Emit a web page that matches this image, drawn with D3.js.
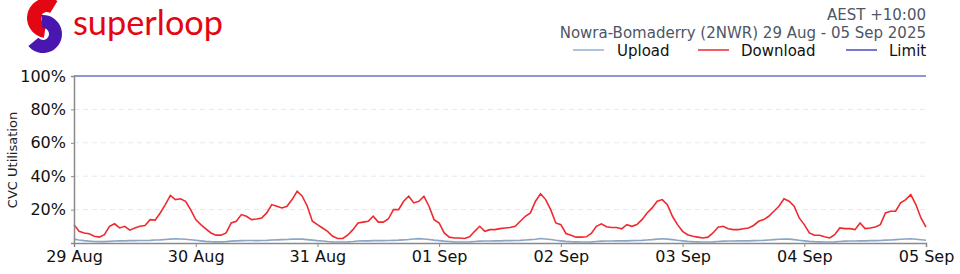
<!DOCTYPE html>
<html><head><meta charset="utf-8">
<script src="https://cdn.jsdelivr.net/npm/d3@7"></script>
<style>
html,body{margin:0;padding:0;background:#fff;}
svg{display:block;font-family:"DejaVu Sans",sans-serif;}
</style></head>
<body>
<svg id="chart" width="960" height="274"></svg>
<script>
// ---- data ----
const startTime = "2025-08-29T00:00:00";
const tickLabels = ["29 Aug","30 Aug","31 Aug","01 Sep","02 Sep","03 Sep","04 Sep","05 Sep"];
const yTicks = [20,40,60,80,100];
// hourly download utilisation (%)
const download = [
 11,7,6,5.5,4,3.5,5,10,11.5,9,10,7.7,9,10,10.5,14,13.7,18,23,28.5,26,26.5,25,20,
 14,11,8.5,6,4.7,4.7,6,12,13,17,16,14,14.4,15,18,23,22,21,22,26,31,28,22,13,
 11,9,7,4,2.7,2.7,4.8,8,12,12.5,13,16,12.5,12.5,14.5,20,20,25,28,24,25,28,22,14,
 12,6,3.5,3,3,2.7,3.7,7,10,7,8,8,8.6,9,9.3,10,13,16,18,25,29.5,26,20,12,
 11,5.7,4.6,3.5,3.5,3.7,5.7,10,11.5,9.7,9.3,9.3,8.5,11,10,11,14,18,21,25,26,23,16,11,
 7,5,4,3.5,3,3.5,6,9.5,10,8.5,8,8,8.5,9,10.5,13,14,16,19,22,26.5,25,22,15,
 11,6,4.6,4.6,3.7,3,5,9,8.6,8.6,8,12,8.6,9,9.6,11,18,19,19,24,26,29,23,15,
 9.5
];
// hourly upload utilisation (%)
const upload = [
 2.3,1.8,1.4,1.1,0.9,0.8,0.8,1,1.2,1.3,1.3,1.4,1.4,1.5,1.5,1.6,1.8,1.9,2.1,2.3,2.5,2.4,2.2,1.9,
 1.6,1.3,1,0.8,0.7,0.7,0.8,1.1,1.3,1.4,1.5,1.5,1.4,1.5,1.6,1.8,1.9,2,2.1,2.3,2.4,2.3,2,1.7,
 1.4,1.2,0.9,0.7,0.6,0.6,0.7,0.9,1.2,1.3,1.3,1.4,1.4,1.4,1.5,1.6,1.7,1.9,2.1,2.4,2.6,2.4,2.1,1.7,
 1.4,1.1,0.9,0.7,0.6,0.6,0.7,0.9,1.1,1.2,1.2,1.3,1.3,1.4,1.4,1.5,1.6,1.8,2,2.2,2.7,2.4,2.1,1.6,
 1.3,1,0.8,0.7,0.6,0.6,0.7,0.9,1.1,1.2,1.2,1.3,1.3,1.3,1.4,1.5,1.6,1.8,2,2.3,2.5,2.3,2,1.6,
 1.3,1,0.8,0.7,0.6,0.6,0.7,0.9,1.1,1.2,1.2,1.3,1.3,1.3,1.4,1.5,1.6,1.8,2,2.2,2.4,2.3,2,1.6,
 1.3,1,0.8,0.7,0.6,0.6,0.7,0.9,1.1,1.2,1.2,1.3,1.3,1.4,1.4,1.5,1.7,1.8,2,2.2,2.4,2.5,2.2,1.9,
 1.6
];
const limitValue = 100;

// ---- layout ----
const svg = d3.select("#chart");
const M = {left:74, right:926, top:76, bottom:243};
const t0 = new Date(startTime);
const x = d3.scaleTime()
  .domain([t0, d3.timeDay.offset(t0, 7)])
  .range([M.left, M.right]);
const y = d3.scaleLinear().domain([0,100]).range([M.bottom, M.top]);
const timeAt = i => d3.timeHour.offset(t0, i);

// grid
svg.append("g").selectAll("line").data(yTicks.filter(d=>d<100)).join("line")
  .attr("x1",M.left).attr("x2",M.right)
  .attr("y1",d=>y(d)).attr("y2",d=>y(d))
  .attr("stroke","#e3e9f2").attr("stroke-width",1).attr("stroke-dasharray","5,4");

// limit line
svg.append("line").attr("x1",M.left).attr("x2",M.right)
  .attr("y1",y(limitValue)).attr("y2",y(limitValue))
  .attr("stroke","#6f72c8").attr("stroke-width",1.3);

const line = d3.line().x((d,i)=>x(timeAt(i))).y(d=>y(d)).curve(d3.curveLinear);

svg.append("path").datum(upload).attr("d",line)
  .attr("fill","none").attr("stroke","#8aa5c6").attr("stroke-width",1.6);
svg.append("path").datum(download).attr("d",line)
  .attr("fill","none").attr("stroke","#ee2a2f").attr("stroke-width",1.6);

// axes
const xAxis = d3.axisBottom(x)
  .tickValues(tickLabels.map((d,i)=>d3.timeDay.offset(t0,i)))
  .tickFormat((d,i)=>tickLabels[i]).tickSize(4).tickPadding(4);
const gx = svg.append("g").attr("transform",`translate(0,${M.bottom})`).call(xAxis);
gx.select(".domain").attr("stroke","#8a8a8a").attr("stroke-width",1.5);
gx.selectAll(".tick line").attr("stroke","#8a8a8a");
gx.selectAll("text").attr("font-size",16).attr("fill","#111").attr("font-family","DejaVu Sans");

const yAxis = d3.axisLeft(y).tickValues(yTicks).tickFormat(d=>d+"%").tickSize(3).tickPadding(5);
const gy = svg.append("g").attr("transform",`translate(${M.left},0)`).call(yAxis);
gy.select(".domain").attr("stroke","#8a8a8a").attr("stroke-width",1.5);
gy.selectAll(".tick line").attr("stroke","#8a8a8a");
gy.selectAll("text").attr("font-size",16).attr("fill","#111").attr("font-family","DejaVu Sans");

svg.append("text").attr("transform","translate(17,160) rotate(-90)")
  .attr("text-anchor","middle").attr("font-size",13).attr("fill","#222")
  .text("CVC Utilisation");

// titles
svg.append("text").attr("x",926).attr("y",20).attr("text-anchor","end")
  .attr("font-size",15).attr("fill","#4d5666").text("AEST +10:00");
svg.append("text").attr("x",926).attr("y",38).attr("text-anchor","end")
  .attr("font-size",15).attr("fill","#4d5666").text("Nowra-Bomaderry (2NWR) 29 Aug - 05 Sep 2025");

// legend
const legend = [
  {name:"Upload", color:"#8fb0d6", lx:573, tx:617},
  {name:"Download", color:"#ee2a2f", lx:698, tx:741},
  {name:"Limit", color:"#4a4ac0", lx:846, tx:889}
];
const lg = svg.append("g").selectAll("g").data(legend).join("g");
lg.append("line").attr("x1",d=>d.lx).attr("x2",d=>d.lx+31).attr("y1",50).attr("y2",50)
  .attr("stroke",d=>d.color).attr("stroke-width",1.5);
lg.append("text").attr("x",d=>d.tx).attr("y",56).attr("font-size",15).attr("fill","#111")
  .text(d=>d.name);

// logo
const logo = svg.append("g");
const arc = d3.arc();
logo.append("path").attr("transform","translate(47,18)")
  .attr("d",arc({innerRadius:6,outerRadius:20,startAngle:0.55,endAngle:-Math.PI*0.95}))
  .attr("fill","#e30613");
logo.append("path").attr("transform","translate(43,34)")
  .attr("d",arc({innerRadius:6,outerRadius:19,startAngle:-0.1,endAngle:Math.PI*1.28}))
  .attr("fill","#4a16b0");
logo.append("text").attr("x",73).attr("y",35).attr("font-size",34)
  .attr("font-family","Lato, 'Open Sans', sans-serif").attr("fill","#e30613")
  .attr("textLength",150).attr("lengthAdjust","spacingAndGlyphs").text("superloop");
</script>
</body></html>
